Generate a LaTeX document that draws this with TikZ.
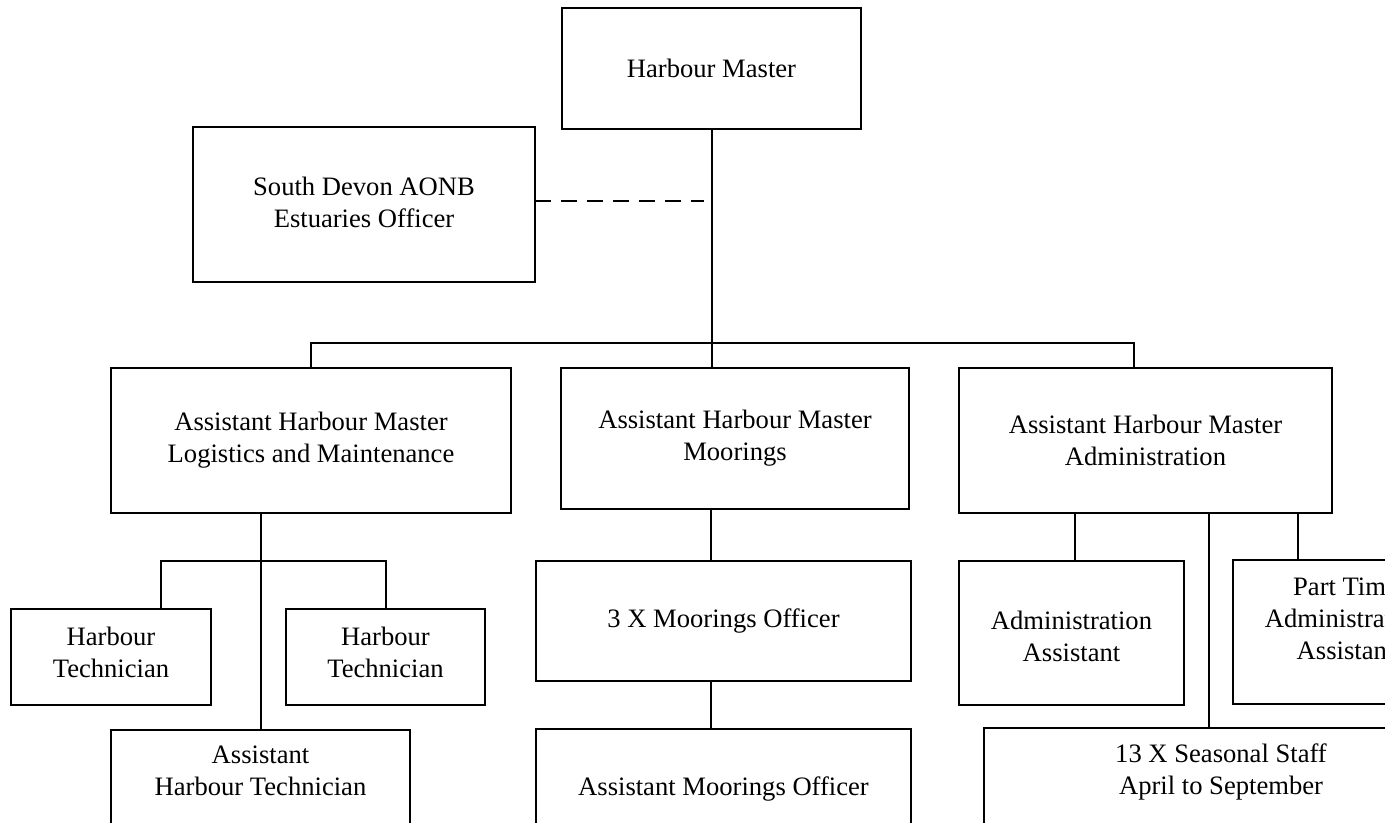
\documentclass[tikz,border=0pt]{standalone}
\usepackage{fontspec}
\setmainfont{Liberation Serif}
\begin{document}
\begin{tikzpicture}[x=0.5pt,y=-0.5pt,
  box/.style={draw,line width=1pt,inner sep=0pt,outer sep=0pt,align=center,
    font=\fontsize{13.3}{16}\selectfont},
  txt/.style={inner sep=0pt,align=center,font=\fontsize{13.3}{16}\selectfont},
  conn/.style={line width=1pt},
  dashconn/.style={line width=1pt,dash pattern=on 8pt off 5pt}]
\clip (0,0) rectangle (1385,823);
\fill[white] (0,0) rectangle (1385,823);
% boxes
\node[box,minimum width=149.5pt,minimum height=60.5pt] (hm) at (711.5,68.5) {Harbour Master};
\node[box,minimum width=171pt,minimum height=77.5pt] (sd) at (364,204.5) {};
\node[txt] (sdt) at (364,202) {South Devon AONB\\Estuaries Officer};
\node[box,minimum width=200pt,minimum height=72.5pt] (ahml) at (311,440.5) {Assistant Harbour Master\\Logistics and Maintenance};
\node[box,minimum width=174pt,minimum height=70.5pt] (ahmm) at (735,438.5) {Assistant Harbour Master\\Moorings};
\node[box,minimum width=186.5pt,minimum height=72.5pt] (ahma) at (1145.5,440.5) {Assistant Harbour Master\\Administration};
\node[box,minimum width=100pt,minimum height=48pt] (ht1) at (111,657) {};
\node[txt] (ht1t) at (111,652) {Harbour\\Technician};
\node[box,minimum width=99.5pt,minimum height=48pt] (ht2) at (385.5,657) {};
\node[txt] (ht2t) at (385.5,652) {Harbour\\Technician};
\node[box,minimum width=149.5pt,minimum height=75pt] (aht) at (260.5,805) {};
\node[txt] (ahtt) at (260.5,771) {Assistant\\Harbour Technician};
\node[box,minimum width=187.5pt,minimum height=60pt] (mo) at (723.5,621) {3 X Moorings Officer};
\node[box,minimum width=187.5pt,minimum height=60pt] (amo) at (723.5,789) {Assistant Moorings Officer};
\node[box,minimum width=112.5pt,minimum height=72pt] (aa) at (1071.5,633) {};
\node[txt] (aat) at (1071.5,636) {Administration\\Assistant};
\node[box,minimum width=112.5pt,minimum height=72pt] (pt) at (1345.5,632) {};
\node[txt] (ptt) at (1345.5,619) {Part Time\\Administration\\Assistant};
\node[box,minimum width=237pt,minimum height=76pt] (ss) at (1221,804) {};
\node[txt] (sst) at (1221,772) {13 X Seasonal Staff\\April to September};
% junction coordinates
\coordinate (busR) at (1134,343);
\coordinate (dashend) at (704,201);
\coordinate (tbusL) at (161,561);
\coordinate (mdrop) at (711,0);
\coordinate (adrop1) at (1075,513);
\coordinate (adrop2) at (1209,513);
\coordinate (adrop3) at (1298,513);
% connectors
\draw[conn] (hm.south) -- (hm.south |- ahmm.north);
\draw[conn] (ahml.north) |- (busR) -- (busR |- ahma.north);
\draw[dashconn] (sd.east |- dashend) -- (dashend);
\draw[conn] (aht.north |- ahml.south) -- (aht.north);
\draw[conn] (tbusL |- ht1.north) -- (tbusL) -| (ht2.north);
\draw[conn] (mdrop |- ahmm.south) -- (mdrop |- mo.north);
\draw[conn] (mdrop |- mo.south) -- (mdrop |- amo.north);
\draw[conn] (adrop1) -- (adrop1 |- aa.north);
\draw[conn] (adrop2) -- (adrop2 |- ss.north);
\draw[conn] (adrop3) -- (adrop3 |- pt.north);
\end{tikzpicture}
\end{document}
